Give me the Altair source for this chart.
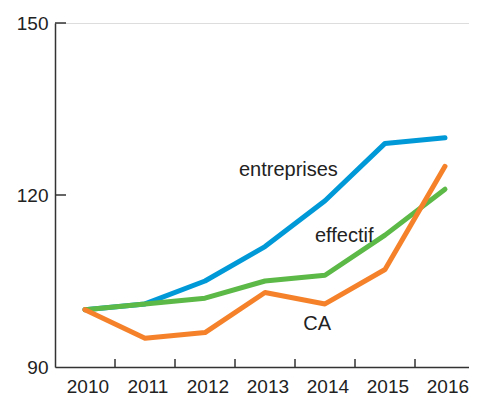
import altair as alt
import pandas as pd

years = [2010, 2011, 2012, 2013, 2014, 2015, 2016]
entreprises = [100, 101, 105, 111, 119, 129, 130]
effectif = [100, 101, 102, 105, 106, 113, 121]
ca = [100, 95, 96, 103, 101, 107, 125]

series_names = ["entreprises", "effectif", "CA"]
series_colors = ["#0099D8", "#5CB947", "#F5822A"]

label_text = ["entreprises", "effectif", "CA"]
label_year = [2013.39, 2014.32, 2013.87]
label_value = [123.3, 111.8, 96.5]

tick_years = [2010.5, 2011.5, 2012.5, 2013.5, 2014.5, 2015.5]
y_ticks = [90, 120, 150]

rows = []
for name, vals in zip(series_names, [entreprises, effectif, ca]):
    for y, v in zip(years, vals):
        rows.append({"series": name, "year": y, "value": v})
df = pd.DataFrame(rows)

W, H = 414, 344
xscale = alt.Scale(domain=[2009.5, 2009.5 + W / 60.0], nice=False, zero=False)
yscale = alt.Scale(domain=[90, 150], nice=False, zero=False)

label_shift = 0.04
label_positions = [y + label_shift for y in years]

lines = alt.Chart(df).mark_line(strokeWidth=5, strokeCap="round", strokeJoin="round").encode(
    x=alt.X("year:Q", scale=xscale,
            axis=alt.Axis(values=label_positions, labelExpr="round(datum.value)", title=None,
                          ticks=False, grid=False,
                          labelFontSize=19, labelPadding=10, labelColor="#222",
                          labelFont="Liberation Sans", domainColor="#333", domainWidth=1.5,
                          labelFlush=False, labelOverlap=False)),
    y=alt.Y("value:Q", scale=yscale,
            axis=alt.Axis(values=y_ticks, title=None, ticks=False, grid=False,
                          labelFontSize=19, labelPadding=7, labelColor="#222",
                          labelFont="Liberation Sans", domainColor="#333", domainWidth=1.5)),
    color=alt.Color("series:N", scale=alt.Scale(domain=series_names, range=series_colors), legend=None),
    order="year:Q",
)

xt = alt.Chart(pd.DataFrame({"t": tick_years})).mark_rule(color="#333", strokeWidth=1.5).encode(
    x=alt.X("t:Q", scale=xscale),
    y=alt.value(H),
    y2=alt.value(H - 8),
)

yt = alt.Chart(pd.DataFrame({"v": y_ticks[1:]})).mark_rule(color="#333", strokeWidth=1.5).encode(
    y=alt.Y("v:Q", scale=yscale),
    x=alt.value(0),
    x2=alt.value(11),
)

texts = alt.Chart(pd.DataFrame({"text": label_text, "year": label_year, "value": label_value})).mark_text(
    fontSize=20, font="Liberation Sans", color="#222", align="center", baseline="alphabetic"
).encode(
    x=alt.X("year:Q", scale=xscale),
    y=alt.Y("value:Q", scale=yscale),
    text="text:N",
)

chart = alt.layer(xt, yt, lines, texts).properties(
    width=W, height=H,
    autosize=alt.AutoSizeParams(type="none"),
    padding={"left": 47, "top": 15, "right": 0, "bottom": 30},
).configure_view(stroke=None).configure(background="white")

chart.save("out.html", embed_options={"renderer": "svg", "actions": False})
